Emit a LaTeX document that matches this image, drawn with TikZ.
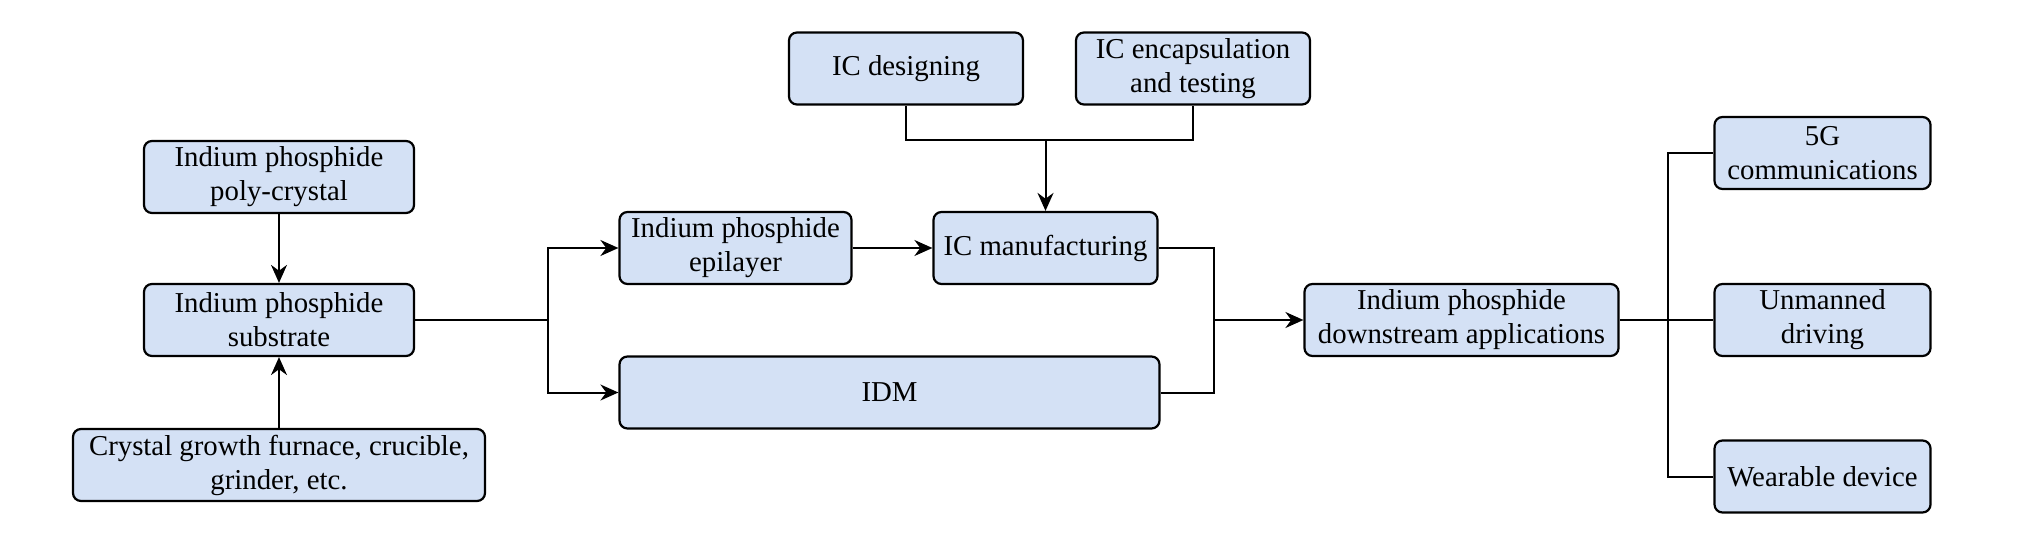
\documentclass[tikz,border=0pt]{standalone}
\usepackage{fontspec}
\setmainfont{Liberation Serif}
\newfontfamily\boxfont{Liberation Serif}
\usetikzlibrary{arrows.meta,positioning}
\definecolor{boxblue}{HTML}{D4E1F5}

\begin{document}
\begin{tikzpicture}[x=0.5bp,y=-0.5bp,>={Stealth[length=9bp,width=8bp]},
	line width=1bp,
	box/.style={draw,fill=boxblue,rounded corners=4bp,line width=1.1bp,align=center,
		minimum height=36bp,inner sep=2bp,font=\boxfont\fontsize{14.4bp}{17bp}\selectfont}
	]
	\useasboundingbox (0,0) rectangle (2018,551);

	% raw material and substrate
	\node[box,minimum width=135bp] (poly) at (279,177) {Indium phosphide\\poly-crystal};
	\node[box,minimum width=135bp] (sub) at (279,320) {Indium phosphide\\substrate};
	\node[box,minimum width=206bp] (crys) at (279,465) {Crystal growth furnace, crucible,\\grinder, etc.};

	% midstream
	\node[box,minimum width=116bp] (epi) at (735.5,248) {Indium phosphide\\epilayer};
	\node[box,minimum width=270bp] (idm) at (889.5,392.5) {IDM};
	\node[box,minimum width=112bp] (icman) at (1045.5,248) {IC manufacturing};
	\node[box,minimum width=117bp] (icdes) at (906,68.5) {IC designing};
	\node[box,minimum width=117bp] (icenc) at (1193,68.5) {IC encapsulation\\and testing};

	% downstream
	\node[box,minimum width=157bp] (down) at (1461.5,320) {Indium phosphide\\downstream applications};
	\node[box,minimum width=108bp] (fiveg) at (1822.5,153) {5G\\communications};
	\node[box,minimum width=108bp] (unm) at (1822.5,320) {Unmanned\\driving};
	\node[box,minimum width=108bp] (wear) at (1822.5,476.5) {Wearable device};

	\coordinate (splitA) at (548,320);
	\coordinate (joinIC) at (1045.5,140);
	\coordinate (mergeA) at (1214,320);
	\coordinate (splitB) at (1668,320);

	\draw[->] (poly) -- (sub);
	\draw[->] (crys) -- (sub);
	\draw (sub.east) -- (splitA);
	\draw[->] (splitA) |- (epi.west);
	\draw[->] (splitA) |- (idm.west);
	\draw[->] (epi) -- (icman);
	\draw (icdes.south) |- (joinIC) -| (icenc.south);
	\draw[->] (joinIC) -- (icman.north);
	\draw (icman.east) -| (mergeA);
	\draw (idm.east) -| (mergeA);
	\draw[->] (mergeA) -- (down.west);
	\draw (down.east) -- (unm.west);
	\draw (splitB) |- (fiveg.west);
	\draw (splitB) |- (wear.west);

\end{tikzpicture}
\end{document}
